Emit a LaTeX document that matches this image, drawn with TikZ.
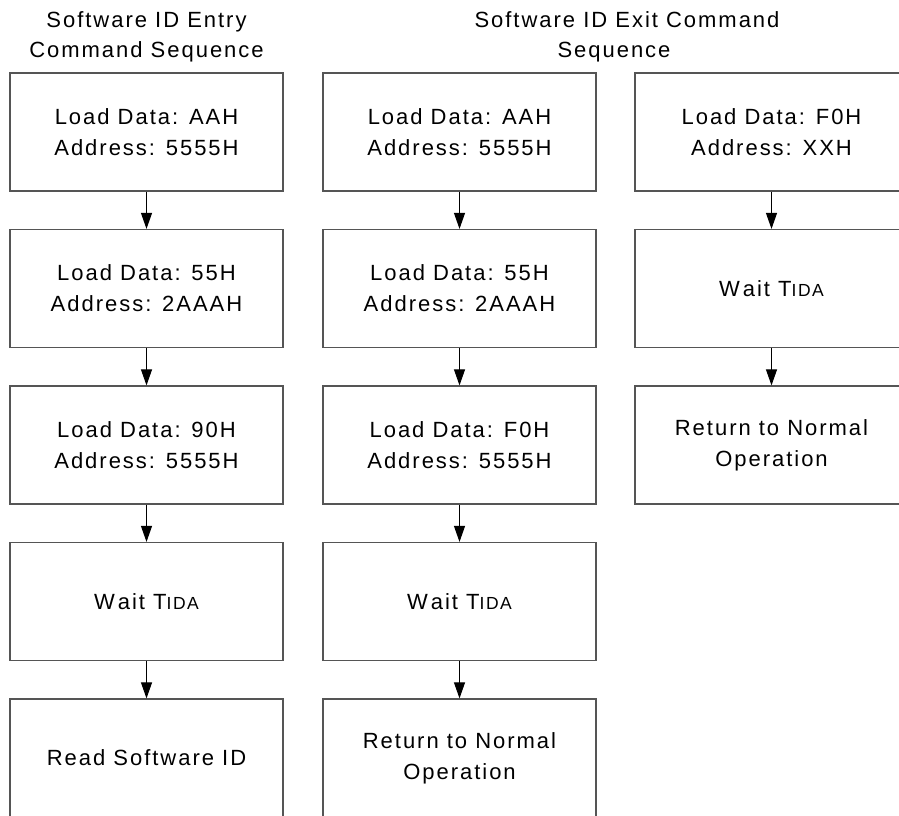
\documentclass[tikz,border=0pt]{standalone}
\usepackage{fontspec}
\setmainfont{Liberation Sans}[LetterSpace=9]
\usetikzlibrary{arrows.meta}
\definecolor{boxgray}{HTML}{555555}
\newcommand{\tida}{W\kern3pt ait T{\fontsize{17.5}{20}\selectfont IDA}}
\begin{document}
\begin{tikzpicture}[x=1pt,y=-1pt,
  stepbox/.style={draw=boxgray, line width=1.2pt, minimum width=273pt, minimum height=118pt,
    inner sep=0pt, align=center, font=\fontsize{22}{31}\selectfont},
  ttl/.style={anchor=base, inner sep=0pt, font=\fontsize{22}{28}\selectfont},
  arr/.style={-{Triangle[width=11pt,length=16pt]}, line width=1pt, black}]
\useasboundingbox (0,0) rectangle (899,816);
% titles
\node[ttl] (t1a) at (146.5,28) {Software ID Entry};
\node[ttl] (t1b) at (146.5,58) {Command Sequence};
\node[ttl] (t2a) at (627,28) {Software ID Exit Command};
\node[ttl] (t2b) at (614,58) {Sequence};
% column 1
\node[stepbox] (a1) at (146.5,132) {Load Data: AAH\\Address: 5555H};
\node[stepbox] (a2) at (146.5,288.5) {Load Data: 55H\\Address: 2AAAH};
\node[stepbox] (a3) at (146.5,445) {Load Data: 90H\\Address: 5555H};
\node[stepbox] (a4) at (146.5,601.5) {\tida};
\node[stepbox] (a5) at (146.5,758) {Read Software ID};
% column 2
\node[stepbox] (b1) at (459.5,132) {Load Data: AAH\\Address: 5555H};
\node[stepbox] (b2) at (459.5,288.5) {Load Data: 55H\\Address: 2AAAH};
\node[stepbox] (b3) at (459.5,445) {Load Data: F0H\\Address: 5555H};
\node[stepbox] (b4) at (459.5,601.5) {\tida};
\node[stepbox] (b5) at (459.5,758) {Return to Normal\\Operation};
% column 3
\node[stepbox] (c1) at (771.5,132) {Load Data: F0H\\Address: XXH};
\node[stepbox] (c2) at (771.5,288.5) {\tida};
\node[stepbox] (c3) at (771.5,445) {Return to Normal\\Operation};
% arrows
\foreach \u/\v in {a1/a2,a2/a3,a3/a4,a4/a5,b1/b2,b2/b3,b3/b4,b4/b5,c1/c2,c2/c3}
  \draw[arr] (\u.south) -- (\v.north);
\end{tikzpicture}
\end{document}
